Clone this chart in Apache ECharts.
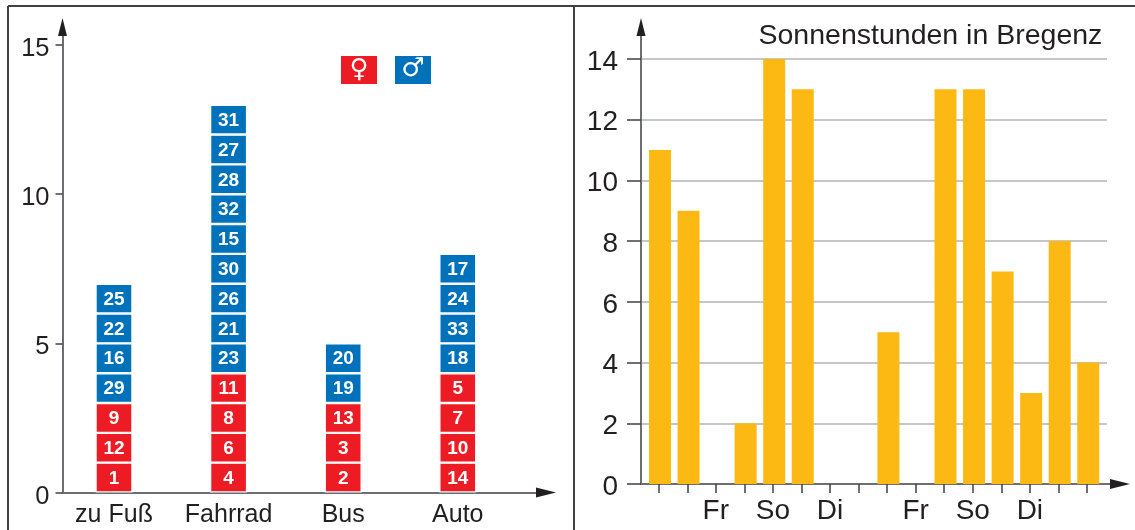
<!DOCTYPE html>
<html><head><meta charset="utf-8">
<style>html,body{margin:0;padding:0;background:#fff}#c{width:1135px;height:530px}</style>
<script src="https://cdn.jsdelivr.net/npm/echarts@6/dist/echarts.min.js"></script>
</head><body><div id="c"></div>
<script>
const categories = ['zu Fuß','Fahrrad','Bus','Auto'];
const femaleIds = [[1,12,9],[4,6,8,11],[2,3,13],[14,10,7,5]];
const maleIds = [[29,16,22,25],[23,21,26,30,15,32,28,27,31],[19,20],[18,33,24,17]];
const leftYTicks = [0,5,10,15];
const rightYTicks = [0,2,4,6,8,10,12,14];
const legendLabels = ['♀','♂'];
const titleText = 'Sonnenstunden in Bregenz';
const sunHours = [11,9,0,2,14,13,0,0,5,0,13,13,7,3,8,4];
const dayLabels = ['','','Fr','','So','','Di','','','Fr','','So','','Di','',''];

const RED='#ed1c24', BLUE='#0072bc', ORANGE='#fdb913', AXIS='#6d6e71', TXT='#231f20', FONT='"Liberation Sans"';
const W=1135,H=530;
const line=(x1,y1,x2,y2)=>({type:'line',shape:{x1,y1,x2,y2},style:{stroke:'#414042',lineWidth:2},silent:true});
const tri=(points)=>({type:'polygon',shape:{points},style:{fill:TXT},silent:true,z:10});

const levels = Math.max(...categories.map((_,i)=>femaleIds[i].length+maleIds[i].length));
const leftSeries=[];
for(let l=0;l<levels;l++){
  const data=categories.map((_,i)=>{
    const f=femaleIds[i], m=maleIds[i];
    const id = l<f.length? f[l] : m[l-f.length];
    return id===undefined ? {value:'-'} : {value:1,id,itemStyle:{color:l<f.length?RED:BLUE}};
  });
  leftSeries.push({type:'bar',xAxisIndex:0,yAxisIndex:0,stack:'s',barWidth:37,data,silent:true,
    itemStyle:{borderColor:'#fff',borderWidth:1.2},
    label:{show:true,position:'inside',offset:[0,1],color:'#fff',fontFamily:FONT,fontWeight:'bold',fontSize:19,
      formatter:p=>p.data.id===undefined?'':String(p.data.id)}});
}

const L={x0:62.5,x1:546,y0:492.5,y1:27,cx:114,step:114.6,unit:29.83};
const R={x0:641,x1:1120,xg:1107,y0:484,y1:27,cx:660,step:28.55,unit:30.36};
const tickShift=-0.045;
const lineStyle={color:AXIS,width:2};

const option={
  animation:false,
  textStyle:{fontFamily:FONT},
  title:{text:titleText,left:753.5,top:17,textStyle:{fontFamily:FONT,fontWeight:'normal',fontSize:28.5,color:TXT}},
  grid:[
    {left:L.cx-L.step/2,top:L.y1,width:L.step*categories.length,height:L.y0-L.y1},
    {left:L.x0,top:L.y1,width:L.x1-L.x0,height:L.y0-L.y1},
    {left:R.x0,top:R.y1,width:R.xg-R.x0,height:R.y0-R.y1},
    {left:R.x0,top:R.y1,width:R.x1-R.x0,height:R.y0-R.y1}
  ],
  xAxis:[
    {gridIndex:0,type:'category',data:categories,show:false},
    {gridIndex:1,type:'value',min:(L.x0-L.cx)/L.step,max:(L.x1-L.cx)/L.step,splitLine:{show:false},
     axisLine:{show:true,onZero:false,lineStyle},
     axisTick:{show:false},
     axisLabel:{show:true,customValues:categories.map((_,i)=>i),formatter:v=>categories[Math.round(v)],
       fontSize:25,color:TXT,margin:10,fontFamily:FONT}},
    {gridIndex:2,type:'value',min:(R.x0-R.cx)/R.step,max:(R.xg-R.cx)/R.step,show:false,splitLine:{show:false}},
    {gridIndex:3,type:'value',min:(R.x0-R.cx)/R.step,max:(R.x1-R.cx)/R.step,splitLine:{show:false},
     axisLine:{show:true,onZero:false,lineStyle},
     axisTick:{show:true,length:9,inside:false,customValues:dayLabels.map((_,i)=>i+tickShift),lineStyle:{color:'#414042',width:1.5}},
     axisLabel:{show:true,customValues:dayLabels.map((_,i)=>i+tickShift),
       formatter:v=>dayLabels[Math.round(v-tickShift)]||'',fontSize:28,color:TXT,margin:13,fontFamily:FONT,hideOverlap:false}}
  ],
  yAxis:[
    {gridIndex:0,type:'value',min:0,max:(L.y0-L.y1)/L.unit,show:false,splitLine:{show:false}},
    {gridIndex:1,type:'value',min:0,max:(L.y0-L.y1)/L.unit,splitLine:{show:false},
     axisLine:{show:true,onZero:false,lineStyle},
     axisTick:{show:true,length:7,customValues:leftYTicks,lineStyle:{color:'#414042',width:1.5}},
     axisLabel:{show:true,customValues:leftYTicks,margin:13,formatter:v=>`{a|${v}}`,
       rich:{a:{fontSize:25.5,color:TXT,fontFamily:FONT,padding:[8,0,0,0]}}}},
    {gridIndex:2,type:'value',min:0,max:(R.y0-R.y1)/R.unit,interval:2,
     axisLine:{show:false},axisTick:{show:false},axisLabel:{show:false},
     splitLine:{show:true,showMinLine:false,showMaxLine:false,lineStyle:{color:'#b1b3b6',width:1.5}}},
    {gridIndex:3,type:'value',min:0,max:(R.y0-R.y1)/R.unit,splitLine:{show:false},
     axisLine:{show:true,onZero:false,lineStyle},
     axisTick:{show:true,length:14,customValues:rightYTicks,lineStyle:{color:'#414042',width:1.5}},
     axisLabel:{show:true,customValues:rightYTicks,margin:23,formatter:v=>`{a|${v}}`,
       rich:{a:{fontSize:28,color:TXT,fontFamily:FONT,padding:[6,0,0,0]}}}}
  ],
  series:[...leftSeries,
    {type:'bar',xAxisIndex:2,yAxisIndex:2,barWidth:22,silent:true,itemStyle:{color:ORANGE},
     data:sunHours.map((v,i)=>[i,v])}
  ],
  graphic:[
    line(8,6,W,6), line(8,6,8,H), line(574,6,574,H),
    tri([[62.5,18],[58,36],[67,36]]), tri([[641,18],[636.5,36],[645.5,36]]),
    tri([[556,492.5],[536,487.5],[536,497.5]]), tri([[1130,484],[1110,479],[1110,489]]),
    {type:'rect',shape:{x:341,y:56,width:36,height:28},style:{fill:RED},silent:true},
    {type:'rect',shape:{x:395,y:56,width:36,height:28},style:{fill:BLUE},silent:true},
    {type:'text',x:359,y:70,style:{text:legendLabels[0],fill:'#fff',font:'bold 26px "DejaVu Sans"',align:'center',verticalAlign:'middle'},silent:true},
    {type:'text',x:413,y:69,style:{text:legendLabels[1],fill:'#fff',font:'bold 26px "DejaVu Sans"',align:'center',verticalAlign:'middle'},silent:true}
  ]
};
echarts.init(document.getElementById('c'),null,{renderer:'canvas',width:W,height:H}).setOption(option);
</script></body></html>
